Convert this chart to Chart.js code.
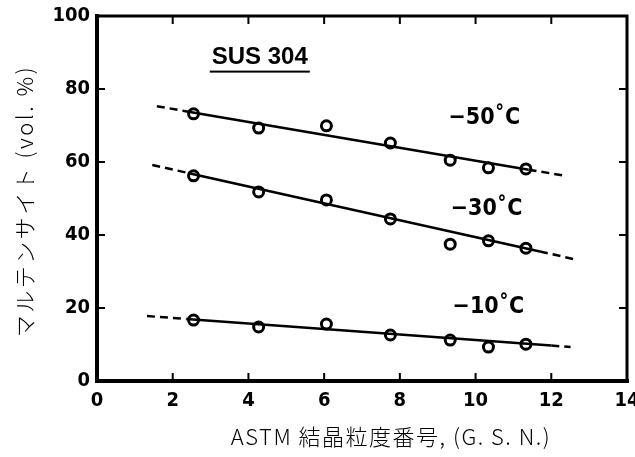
<!DOCTYPE html>
<html>
<head>
<meta charset="utf-8">
<script src="https://cdn.jsdelivr.net/npm/chart.js@4.4.0/dist/chart.umd.min.js"></script>
<style>
  html, body { margin: 0; padding: 0; background: #fff; }
  #wrap { width: 635px; height: 457px; }
</style>
</head>
<body>
<div id="wrap"><canvas id="grafico" width="635" height="457"></canvas></div>
<script>
// ASTM 結晶粒度番号 (x) vs マルテンサイト量 (y)
const grainNo = [2.55, 4.27, 6.06, 7.75, 9.33, 10.34, 11.33];
const mart50 = [73.2, 69.3, 69.9, 65.2, 60.5, 58.4, 58.1];
const mart30 = [56.2, 51.8, 49.6, 44.4, 37.5, 38.4, 36.4];
const mart10 = [16.7, 14.8, 15.6, 12.6, 11.2, 9.3, 10.1];

// 近似直線 (両端は破線)
const fit50X = [1.58, 2.3, 11.4, 12.38];
const fit50Y = [75.3, 74.0, 57.9, 56.2];
const fit30X = [1.46, 2.4, 11.7, 12.59];
const fit30Y = [59.2, 57.0, 35.5, 33.4];
const fit10X = [1.32, 2.36, 12.0, 12.51];
const fit10Y = [17.8, 17.0, 9.7, 9.3];

const tempLabels = ['\u221250\u02daC', '\u221230\u02daC', '\u221210\u02daC'];
const tempLabelX = [10.23, 10.29, 10.34];
const tempLabelY = [72, 47.1, 20.3];

const xTicks = [0, 2, 4, 6, 8, 10, 12, 14];
const yTicks = [0, 20, 40, 60, 80, 100];

const titleX = 'ASTM 結晶粒度番号, (G. S. N.)';
const titleY = 'マルテンサイト (vol. %)';
const steelName = 'SUS 304';

function pts(xs, ys) {
    return xs.map((x, i) => ({ x: x, y: ys[i] }));
}

function fitLine(xs, ys) {
    return {
        type: 'line',
        data: pts(xs, ys),
        borderColor: '#000',
        borderWidth: 2.5,
        pointRadius: 0,
        fill: false,
        segment: {
            borderDash: ctx => ctx.p0DataIndex === 1 ? undefined : [8, 5]
        }
    };
}

function marks(ys) {
    return {
        type: 'scatter',
        data: pts(grainNo, ys),
        pointRadius: 5,
        pointBorderWidth: 3,
        pointBackgroundColor: '#fff',
        pointBorderColor: '#000'
    };
}

const framePlugin = {
    id: 'frame',
    afterDraw(chart) {
        const ctx = chart.ctx;
        const a = chart.chartArea;
        const xs = chart.scales.x;
        const ys = chart.scales.y;
        ctx.save();
        ctx.strokeStyle = '#000';
        ctx.lineCap = 'square';

        // 枠
        ctx.lineWidth = 3;
        ctx.beginPath();
        ctx.moveTo(a.left, a.top);
        ctx.lineTo(a.right, a.top);
        ctx.lineTo(a.right, a.bottom);
        ctx.stroke();
        ctx.lineWidth = 4;
        ctx.beginPath();
        ctx.moveTo(a.left, a.top);
        ctx.lineTo(a.left, a.bottom);
        ctx.lineTo(a.right, a.bottom);
        ctx.stroke();

        // 内向き目盛り
        ctx.lineWidth = 2;
        ctx.lineCap = 'butt';
        const len = 8;
        xTicks.slice(1, -1).forEach(v => {
            const p = xs.getPixelForValue(v);
            ctx.beginPath();
            ctx.moveTo(p, a.bottom);
            ctx.lineTo(p, a.bottom - len);
            ctx.moveTo(p, a.top);
            ctx.lineTo(p, a.top + len);
            ctx.stroke();
        });
        yTicks.slice(1, -1).forEach(v => {
            const p = ys.getPixelForValue(v);
            ctx.beginPath();
            ctx.moveTo(a.left, p);
            ctx.lineTo(a.left + len, p);
            ctx.moveTo(a.right, p);
            ctx.lineTo(a.right - len, p);
            ctx.stroke();
        });

        // 温度ラベル
        ctx.fillStyle = '#000';
        ctx.textAlign = 'center';
        ctx.textBaseline = 'middle';
        ctx.font = 'bold 23px "DejaVu Sans Condensed", "DejaVu Sans"';
        tempLabels.forEach((t, i) => {
            ctx.fillText(t, xs.getPixelForValue(tempLabelX[i]), ys.getPixelForValue(tempLabelY[i]));
        });

        // SUS 304
        ctx.font = 'bold 24px "Liberation Sans", Arial';
        const sx = xs.getPixelForValue(4.3);
        const sy = ys.getPixelForValue(88.6);
        ctx.fillText(steelName, sx, sy);
        const w = ctx.measureText(steelName).width;
        ctx.fillRect(sx - w / 2 - 2, sy + 13, w + 4, 2);

        // 軸タイトル
        ctx.font = '300 22px "Noto Sans CJK JP"';
        ctx.letterSpacing = '1.5px';
        ctx.fillText(titleX, 391, 437);
        ctx.letterSpacing = '2.5px';
        ctx.translate(25, 201);
        ctx.rotate(-Math.PI / 2);
        ctx.fillText(titleY, 0, 0);
        ctx.restore();
    }
};

document.addEventListener('DOMContentLoaded', function() {
    const ctx = document.getElementById('grafico').getContext('2d');
    const tickFont = { family: '"DejaVu Sans Condensed", "DejaVu Sans"', size: 20, weight: 'bold' };

    new Chart(ctx, {
        data: {
            datasets: [
                fitLine(fit50X, fit50Y),
                fitLine(fit30X, fit30Y),
                fitLine(fit10X, fit10Y),
                marks(mart50),
                marks(mart30),
                marks(mart10)
            ]
        },
        options: {
            responsive: false,
            animation: false,
            layout: { padding: { top: 16, right: 3, left: 0, bottom: 0 } },
            plugins: {
                legend: { display: false },
                tooltip: { enabled: false }
            },
            scales: {
                x: {
                    type: 'linear',
                    min: 0,
                    max: 14,
                    afterBuildTicks: s => { s.ticks = xTicks.map(v => ({ value: v })); },
                    ticks: { color: '#000', font: tickFont, padding: 8, maxRotation: 0 },
                    grid: { display: false, drawTicks: false },
                    border: { display: false },
                    afterFit: s => { s.height = 76; s.paddingLeft = 0; s.paddingRight = 0; }
                },
                y: {
                    type: 'linear',
                    min: 0,
                    max: 100,
                    afterBuildTicks: s => { s.ticks = yTicks.map(v => ({ value: v })); },
                    ticks: { color: '#000', font: tickFont, padding: 7 },
                    grid: { display: false, drawTicks: false },
                    border: { display: false },
                    afterFit: s => { s.width = 97; s.paddingTop = 0; s.paddingBottom = 0; }
                }
            }
        },
        plugins: [framePlugin]
    });
});
</script>
</body>
</html>
